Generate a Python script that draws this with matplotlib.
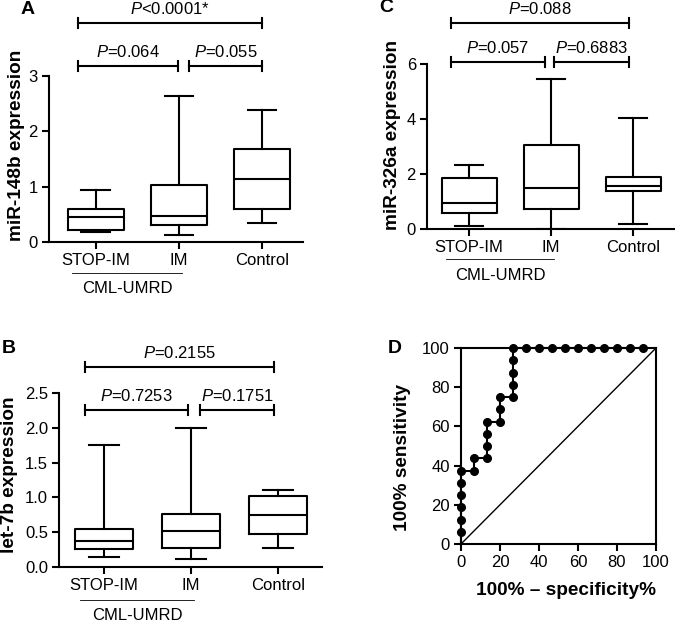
import matplotlib
matplotlib.use("Agg")
import matplotlib.pyplot as plt
import matplotlib.transforms as mtransforms

plt.rcParams['font.family'] = ['Liberation Sans', 'DejaVu Sans']
plt.rcParams['mathtext.fontset'] = 'custom'
plt.rcParams['mathtext.it'] = 'Liberation Sans:italic'
plt.rcParams['mathtext.rm'] = 'Liberation Sans'

# Grupe
groups = ["STOP-IM", "IM", "Control"]

# Panel A - miR-148b (whislo, q1, med, q3, whishi)
a_whislo = [0.18, 0.12, 0.34]
a_q1 = [0.22, 0.30, 0.60]
a_med = [0.45, 0.47, 1.14]
a_q3 = [0.60, 1.03, 1.68]
a_whishi = [0.94, 2.63, 2.38]
a_p = ["$\\it{P}$=0.064", "$\\it{P}$=0.055", "$\\it{P}$<0.0001*"]

# Panel B - let-7b
b_whislo = [0.14, 0.11, 0.28]
b_q1 = [0.26, 0.27, 0.47]
b_med = [0.38, 0.52, 0.74]
b_q3 = [0.55, 0.76, 1.02]
b_whishi = [1.76, 2.00, 1.11]
b_p = ["$\\it{P}$=0.7253", "$\\it{P}$=0.1751", "$\\it{P}$=0.2155"]

# Panel C - miR-326a
c_whislo = [0.12, 0.0, 0.18]
c_q1 = [0.57, 0.74, 1.38]
c_med = [0.93, 1.48, 1.58]
c_q3 = [1.87, 3.04, 1.90]
c_whishi = [2.31, 5.47, 4.03]
c_p = ["$\\it{P}$=0.057", "$\\it{P}$=0.6883", "$\\it{P}$=0.088"]

# Panel D - ROC kriva
roc_x = [0, 0, 0, 0, 0, 0, 0, 6.67, 6.67, 13.33, 13.33, 13.33, 13.33,
         20, 20, 20, 26.67, 26.67, 26.67, 26.67, 26.67,
         33.33, 40, 46.67, 53.33, 60, 66.67, 73.33, 80, 86.67, 93.33]
roc_y = [0, 6.25, 12.5, 18.75, 25, 31.25, 37.5, 37.5, 43.75, 43.75, 50, 56.25, 62.5,
         62.5, 68.75, 75, 75, 81.25, 87.5, 93.75, 100,
         100, 100, 100, 100, 100, 100, 100, 100, 100, 100]

W, H = 675, 621
fig = plt.figure(figsize=(W / 100, H / 100), dpi=100)
LW = 1.5
FS = 12
LFS = 13.7


def rect(left, top, right, bottom):
    return [left / W, 1 - bottom / H, (right - left) / W, (bottom - top) / H]


def box_panel(ax, lo, q1, med, q3, hi, ylim, yticks, ylabel, xlim, lab_xy, fmt,
              line_y, text_y):
    stats = []
    for i in range(3):
        stats.append(dict(whislo=lo[i], q1=q1[i], med=med[i], q3=q3[i],
                          whishi=hi[i], fliers=[]))
    style = dict(color="black", linewidth=LW)
    ax.bxp(stats, positions=[1, 2, 3], widths=0.67, capwidths=0.34,
           showfliers=False, boxprops=style, whiskerprops=style,
           capprops=style, medianprops=style)
    ax.set_xlim(*xlim)
    ax.set_ylim(*ylim)
    ax.set_yticks(yticks)
    ax.set_yticklabels([fmt.format(t) for t in yticks])
    ax.set_xticks([1, 2, 3])
    ax.set_xticklabels(groups)
    for s in ["top", "right"]:
        ax.spines[s].set_visible(False)
    for s in ["left", "bottom"]:
        ax.spines[s].set_linewidth(LW)
    ax.tick_params(width=LW, length=5, labelsize=FS, pad=3)
    ax.set_ylabel(ylabel, fontsize=LFS, fontweight="bold")
    ax.yaxis.set_label_coords(*lab_xy)
    # CML-UMRD oznaka ispod prve dve grupe
    tr = mtransforms.blended_transform_factory(ax.transData, ax.transAxes)
    ax.plot([0.72, 2.04], [line_y, line_y], transform=tr, color="black",
            lw=0.6, clip_on=False)
    ax.text(1.38, text_y, "CML-UMRD", transform=tr, ha="center", va="top",
            fontsize=FS)


def bracket(ax, x1, x2, y, txt, cap):
    ax.plot([x1, x2], [y, y], color="black", lw=LW, clip_on=False)
    for x in (x1, x2):
        ax.plot([x, x], [y - cap, y + cap], color="black", lw=LW, clip_on=False)
    ax.annotate(txt, xy=((x1 + x2) / 2, y), xytext=(0, 6.5),
                textcoords="offset points", ha="center", va="baseline",
                fontsize=FS, annotation_clip=False)


# ----------------------- A -----------------------
axA = fig.add_axes(rect(49, 76, 303, 242))
box_panel(axA, a_whislo, a_q1, a_med, a_q3, a_whishi, (0, 3), [0, 1, 2, 3],
          "miR-148b expression", (0.44, 3.49), (-0.094, 0.58), "{:g}",
          -0.187, -0.235)
bracket(axA, 0.79, 1.99, 3.18, a_p[0], 0.09)
bracket(axA, 2.12, 3.0, 3.18, a_p[1], 0.09)
bracket(axA, 0.79, 3.0, 3.96, a_p[2], 0.09)

# ----------------------- B -----------------------
axB = fig.add_axes(rect(59, 393, 322, 567))
box_panel(axB, b_whislo, b_q1, b_med, b_q3, b_whishi, (0, 2.5),
          [0, 0.5, 1.0, 1.5, 2.0, 2.5], "let-7b expression", (0.483, 3.506),
          (-0.156, 0.53), "{:.1f}", -0.19, -0.235)
bracket(axB, 0.78, 1.97, 2.26, b_p[0], 0.07)
bracket(axB, 2.1, 2.96, 2.26, b_p[1], 0.07)
bracket(axB, 0.78, 2.96, 2.87, b_p[2], 0.07)

# ----------------------- C -----------------------
axC = fig.add_axes(rect(427, 64, 675, 229))
box_panel(axC, c_whislo, c_q1, c_med, c_q3, c_whishi, (0, 6), [0, 2, 4, 6],
          "miR-326a expression", (0.488, 3.51), (-0.105, 0.57), "{:g}",
          -0.182, -0.238)
bracket(axC, 0.78, 1.92, 6.07, c_p[0], 0.18)
bracket(axC, 2.04, 2.95, 6.07, c_p[1], 0.18)
bracket(axC, 0.78, 2.95, 7.49, c_p[2], 0.18)

# ----------------------- D -----------------------
axD = fig.add_axes(rect(461, 348, 656, 544))
axD.plot([0, 100], [0, 100], color="black", lw=1.0)
axD.plot(roc_x, roc_y, color="black", lw=LW, clip_on=False)
axD.plot(roc_x[1:], roc_y[1:], "o", color="black", ms=5.5, clip_on=False)
axD.set_xlim(0, 100)
axD.set_ylim(0, 100)
axD.set_xticks(range(0, 101, 20))
axD.set_yticks(range(0, 101, 20))
for s in axD.spines.values():
    s.set_linewidth(LW)
axD.tick_params(width=LW, length=5, labelsize=FS, pad=3)
axD.set_ylabel("100% sensitivity", fontsize=LFS, fontweight="bold")
axD.yaxis.set_label_coords(-0.256, 0.44)
axD.set_xlabel("100% \u2013 specificity%", fontsize=LFS, fontweight="bold")
axD.xaxis.set_label_coords(0.54, -0.194)

# Oznake panela
for lab, x, y in [("A", 28, 9), ("B", 9, 348), ("C", 386, 8), ("D", 395, 348)]:
    fig.text(x / W, 1 - y / H, lab, fontsize=14, fontweight="bold",
             ha="center", va="center")

fig.savefig("out.png", dpi=100)
